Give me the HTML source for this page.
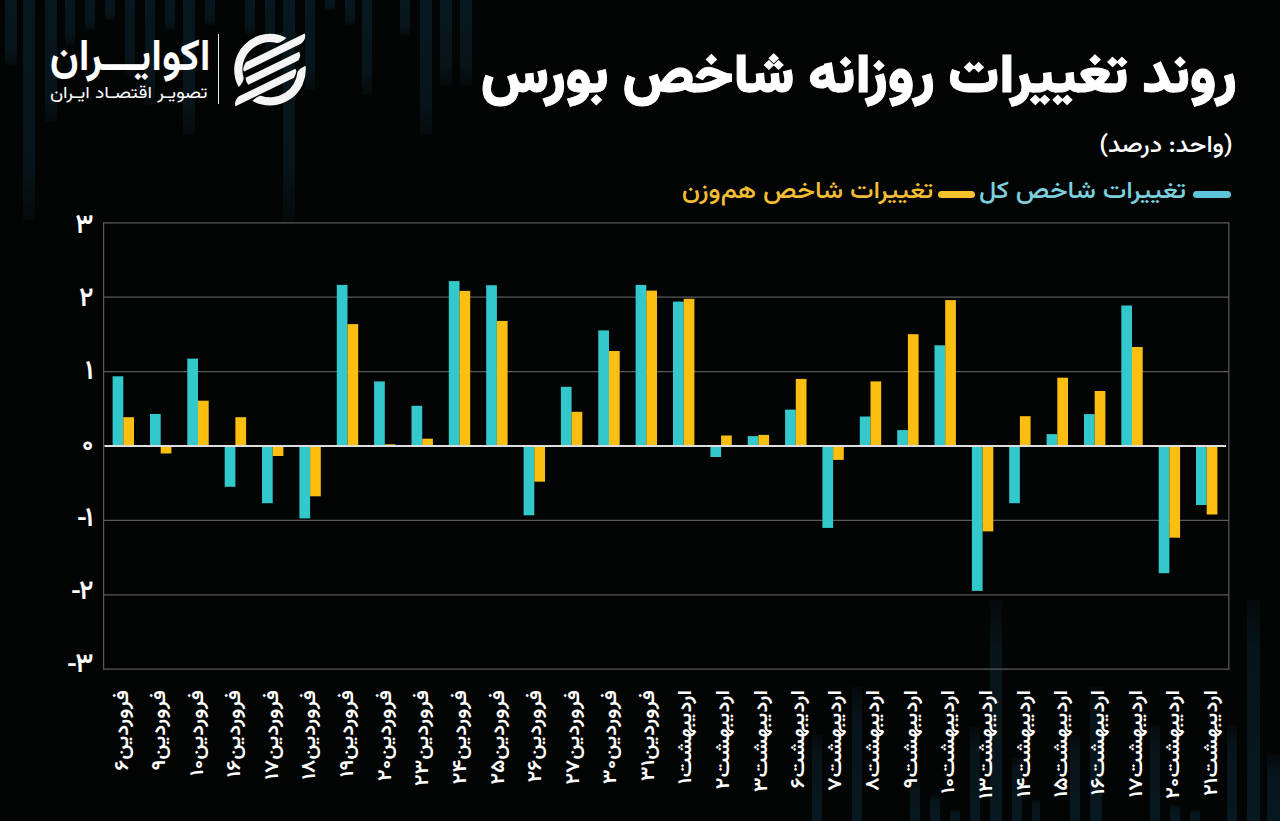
<!DOCTYPE html>
<html lang="fa"><head><meta charset="utf-8"><title>روند تغییرات روزانه شاخص بورس</title>
<style>
html,body{margin:0;padding:0;}
body{width:1280px;height:821px;overflow:hidden;background:#030404;position:relative;font-family:"Vazirmatn","DejaVu Sans",sans-serif;color:#fff;}
svg{position:absolute;left:0;top:0;}
.t{position:absolute;direction:rtl;white-space:nowrap;transform-origin:100% 50%;}
.title{right:43px;top:41px;font-size:54px;font-weight:900;line-height:76px;transform:scaleX(1.043);-webkit-text-stroke:0.9px #fff;}
.sub{right:47.5px;top:129.5px;font-size:23px;font-weight:500;line-height:32px;transform:scaleX(1.097);}
.leg{top:175px;font-size:24px;font-weight:500;line-height:34px;transform:scaleX(1.107);}
.dash{position:absolute;top:190.5px;height:7px;width:37.5px;border-radius:3.5px;}
.yt{position:absolute;right:1186.5px;width:40px;text-align:right;font-size:27px;font-weight:600;direction:ltr;line-height:28px;}
.mn{display:inline-block;transform:scaleX(0.77);transform-origin:100% 50%;position:relative;left:1.6px;}
.lb{position:absolute;top:690px;width:0;height:0;}
.lb span{position:absolute;right:0;top:-14px;line-height:28px;font-size:19.5px;font-weight:600;white-space:nowrap;direction:rtl;transform-origin:100% 50%;transform:rotate(-90deg) scaleX(1.13);}
.brand{position:absolute;direction:rtl;white-space:nowrap;transform-origin:100% 50%;}
.b1{right:1069px;top:29.5px;font-size:44px;font-weight:700;line-height:60px;transform:scaleX(0.948);}
.b2{right:1072px;top:81.5px;font-size:17px;font-weight:400;line-height:24px;transform:scaleX(1.146);}
</style></head><body>
<svg width="1280" height="821" viewBox="0 0 1280 821">
<defs>
<linearGradient id="gd" x1="0" y1="0" x2="0" y2="1"><stop offset="0" stop-color="#081820"/><stop offset="0.75" stop-color="#07151b"/><stop offset="1" stop-color="#050a0c"/></linearGradient>
<linearGradient id="gu" x1="0" y1="1" x2="0" y2="0"><stop offset="0" stop-color="#081820"/><stop offset="0.75" stop-color="#07151b"/><stop offset="1" stop-color="#050a0c"/></linearGradient>
</defs>
<rect x="5" y="0" width="12" height="65" fill="url(#gd)"/><rect x="23" y="0" width="12" height="220" fill="url(#gd)"/><rect x="45" y="0" width="12" height="122" fill="url(#gd)"/><rect x="65" y="0" width="10" height="45" fill="url(#gd)"/><rect x="85" y="0" width="10" height="30" fill="url(#gd)"/><rect x="105" y="0" width="10" height="20" fill="url(#gd)"/><rect x="125" y="0" width="10" height="75" fill="url(#gd)"/><rect x="145" y="0" width="10" height="105" fill="url(#gd)"/><rect x="165" y="0" width="10" height="30" fill="url(#gd)"/><rect x="183" y="0" width="12" height="135" fill="url(#gd)"/><rect x="205" y="0" width="10" height="25" fill="url(#gd)"/><rect x="245" y="0" width="10" height="35" fill="url(#gd)"/><rect x="265" y="0" width="10" height="55" fill="url(#gd)"/><rect x="283" y="0" width="12" height="220" fill="url(#gd)"/><rect x="305" y="0" width="10" height="90" fill="url(#gd)"/><rect x="325" y="0" width="10" height="10" fill="url(#gd)"/><rect x="345" y="0" width="10" height="25" fill="url(#gd)"/><rect x="362" y="0" width="10" height="95" fill="url(#gd)"/><rect x="400" y="0" width="10" height="35" fill="url(#gd)"/><rect x="420" y="0" width="12" height="135" fill="url(#gd)"/><rect x="440" y="0" width="12" height="85" fill="url(#gd)"/><rect x="460" y="0" width="12" height="85" fill="url(#gd)"/><rect x="812" y="735" width="10" height="86" fill="url(#gu)"/><rect x="852" y="687" width="10" height="134" fill="url(#gu)"/><rect x="910" y="780" width="10" height="41" fill="url(#gu)"/><rect x="930" y="795" width="10" height="26" fill="url(#gu)"/><rect x="950" y="810" width="10" height="11" fill="url(#gu)"/><rect x="970" y="727" width="10" height="94" fill="url(#gu)"/><rect x="990" y="600" width="12" height="221" fill="url(#gu)"/><rect x="1012" y="757" width="10" height="64" fill="url(#gu)"/><rect x="1032" y="800" width="8" height="21" fill="url(#gu)"/><rect x="1070" y="735" width="10" height="86" fill="url(#gu)"/><rect x="1090" y="687" width="12" height="134" fill="url(#gu)"/><rect x="1150" y="725" width="10" height="96" fill="url(#gu)"/><rect x="1170" y="805" width="10" height="16" fill="url(#gu)"/><rect x="1190" y="810" width="10" height="11" fill="url(#gu)"/><rect x="1227" y="725" width="10" height="96" fill="url(#gu)"/><rect x="1247" y="600" width="13" height="221" fill="url(#gu)"/><rect x="1267" y="755" width="13" height="66" fill="url(#gu)"/>
<g stroke="#5a5a5a" stroke-width="1.2"><line x1="103.5" y1="222.8" x2="1229" y2="222.8"/><line x1="103.5" y1="297.2" x2="1229" y2="297.2"/><line x1="103.5" y1="371.6" x2="1229" y2="371.6"/><line x1="103.5" y1="520.4" x2="1229" y2="520.4"/><line x1="103.5" y1="594.8" x2="1229" y2="594.8"/><line x1="103.5" y1="669.2" x2="1229" y2="669.2"/>
<line x1="103.6" y1="222.3" x2="103.6" y2="669.7"/><line x1="1228.8" y1="222.3" x2="1228.8" y2="669.7"/></g>
<rect x="112.6" y="376.3" width="10.7" height="69.7" fill="#32c8cc"/><rect x="123.3" y="417.2" width="10.7" height="28.8" fill="#fdbe12"/><rect x="150.0" y="414.0" width="10.7" height="32.0" fill="#32c8cc"/><rect x="160.7" y="446.0" width="10.7" height="7.5" fill="#fdbe12"/><rect x="187.3" y="358.6" width="10.7" height="87.4" fill="#32c8cc"/><rect x="198.0" y="400.7" width="10.7" height="45.3" fill="#fdbe12"/><rect x="224.7" y="446.0" width="10.7" height="40.8" fill="#32c8cc"/><rect x="235.4" y="417.2" width="10.7" height="28.8" fill="#fdbe12"/><rect x="262.0" y="446.0" width="10.7" height="57.2" fill="#32c8cc"/><rect x="272.7" y="446.0" width="10.7" height="10.0" fill="#fdbe12"/><rect x="299.4" y="446.0" width="10.7" height="72.4" fill="#32c8cc"/><rect x="310.1" y="446.0" width="10.7" height="50.3" fill="#fdbe12"/><rect x="336.8" y="284.9" width="10.7" height="161.1" fill="#32c8cc"/><rect x="347.5" y="324.1" width="10.7" height="121.9" fill="#fdbe12"/><rect x="374.1" y="381.4" width="10.7" height="64.6" fill="#32c8cc"/><rect x="384.8" y="444.3" width="10.7" height="1.7" fill="#fdbe12"/><rect x="411.5" y="405.8" width="10.7" height="40.2" fill="#32c8cc"/><rect x="422.2" y="438.7" width="10.7" height="7.3" fill="#fdbe12"/><rect x="448.8" y="281.1" width="10.7" height="164.9" fill="#32c8cc"/><rect x="459.5" y="290.9" width="10.7" height="155.1" fill="#fdbe12"/><rect x="486.2" y="285.2" width="10.7" height="160.8" fill="#32c8cc"/><rect x="496.9" y="320.9" width="10.7" height="125.1" fill="#fdbe12"/><rect x="523.6" y="446.0" width="10.7" height="69.3" fill="#32c8cc"/><rect x="534.3" y="446.0" width="10.7" height="35.7" fill="#fdbe12"/><rect x="560.9" y="386.8" width="10.7" height="59.2" fill="#32c8cc"/><rect x="571.6" y="411.8" width="10.7" height="34.2" fill="#fdbe12"/><rect x="598.3" y="330.4" width="10.7" height="115.6" fill="#32c8cc"/><rect x="609.0" y="351.0" width="10.7" height="95.0" fill="#fdbe12"/><rect x="635.6" y="284.9" width="10.7" height="161.1" fill="#32c8cc"/><rect x="646.3" y="290.6" width="10.7" height="155.4" fill="#fdbe12"/><rect x="673.0" y="301.6" width="10.7" height="144.4" fill="#32c8cc"/><rect x="683.7" y="298.8" width="10.7" height="147.2" fill="#fdbe12"/><rect x="710.4" y="446.0" width="10.7" height="11.0" fill="#32c8cc"/><rect x="721.1" y="435.5" width="10.7" height="10.5" fill="#fdbe12"/><rect x="747.7" y="436.1" width="10.7" height="9.9" fill="#32c8cc"/><rect x="758.4" y="434.9" width="10.7" height="11.1" fill="#fdbe12"/><rect x="785.1" y="409.6" width="10.7" height="36.4" fill="#32c8cc"/><rect x="795.8" y="378.9" width="10.7" height="67.1" fill="#fdbe12"/><rect x="822.4" y="446.0" width="10.7" height="81.9" fill="#32c8cc"/><rect x="833.1" y="446.0" width="10.7" height="13.9" fill="#fdbe12"/><rect x="859.8" y="416.5" width="10.7" height="29.5" fill="#32c8cc"/><rect x="870.5" y="381.4" width="10.7" height="64.6" fill="#fdbe12"/><rect x="897.2" y="430.1" width="10.7" height="15.9" fill="#32c8cc"/><rect x="907.9" y="334.2" width="10.7" height="111.8" fill="#fdbe12"/><rect x="934.5" y="345.3" width="10.7" height="100.7" fill="#32c8cc"/><rect x="945.2" y="300.1" width="10.7" height="145.9" fill="#fdbe12"/><rect x="971.9" y="446.0" width="10.7" height="144.9" fill="#32c8cc"/><rect x="982.6" y="446.0" width="10.7" height="85.4" fill="#fdbe12"/><rect x="1009.2" y="446.0" width="10.7" height="57.2" fill="#32c8cc"/><rect x="1019.9" y="416.2" width="10.7" height="29.8" fill="#fdbe12"/><rect x="1046.6" y="434.1" width="10.7" height="11.9" fill="#32c8cc"/><rect x="1057.3" y="377.7" width="10.7" height="68.3" fill="#fdbe12"/><rect x="1084.0" y="414.1" width="10.7" height="31.9" fill="#32c8cc"/><rect x="1094.7" y="391.0" width="10.7" height="55.0" fill="#fdbe12"/><rect x="1121.3" y="305.5" width="10.7" height="140.5" fill="#32c8cc"/><rect x="1132.0" y="347.0" width="10.7" height="99.0" fill="#fdbe12"/><rect x="1158.7" y="446.0" width="10.7" height="127.2" fill="#32c8cc"/><rect x="1169.4" y="446.0" width="10.7" height="91.7" fill="#fdbe12"/><rect x="1196.0" y="446.0" width="10.7" height="59.0" fill="#32c8cc"/><rect x="1206.7" y="446.0" width="10.7" height="68.5" fill="#fdbe12"/>
<line x1="104.5" y1="446" x2="1226" y2="446" stroke="#dedede" stroke-width="2"/>
</svg>
<div class="t title">روند تغییرات روزانه شاخص بورس</div>
<div class="t sub">(واحد: درصد)</div>
<div class="dash" style="left:1193px;background:#5fc3dc"></div>
<div class="t leg" style="right:94px;color:#7ccfdc">تغییرات شاخص کل</div>
<div class="dash" style="left:937.5px;background:#f7c12c"></div>
<div class="t leg" style="right:347px;color:#f2bd33">تغییرات شاخص هم‌وزن</div>
<svg width="82" height="82" viewBox="0 0 82 82" style="left:230px;top:28px"><g fill="#f4f4f4"><path d="M56.42,9.89 A35.8,35.8 0 0 0 8.69,59.06 Q13.90,53.87 13.61,49.77 A27.6,27.6 0 0 1 46.68,14.92 Q50.90,14.72 56.42,9.89 Z"/><path d="M22.32,72.83 A35.8,35.8 0 0 0 75.58,37.71 Q69.08,40.68 67.49,44.11 A27.6,27.6 0 0 1 31.01,67.80 Q27.70,68.07 22.32,72.83 Z"/><path d="M15.80,34.31 L74.68,5.59 Q76.53,10.53 71.32,15.58 L14.16,43.46 Q11.66,41.06 15.80,34.31 Z"/><path d="M15.51,49.81 L69.05,23.69 Q71.58,27.74 68.29,32.41 L18.24,56.82 Q16.05,54.61 15.51,49.81 Z"/><path d="M8.90,68.27 L65.28,40.77 Q67.79,43.17 63.99,49.75 L5.54,78.26 Q3.69,73.32 8.90,68.27 Z"/></g></svg>
<div style="position:absolute;left:217.5px;top:34px;width:1.5px;height:70px;background:#e8e8e8"></div>
<div class="brand b1">اکوایـــران</div>
<div class="brand b2">تصویـر اقتصـاد ایـران</div>
<div class="yt" style="top:212.8px">۳</div><div class="yt" style="top:285.7px">۲</div><div class="yt" style="top:358.6px">۱</div><div class="yt" style="top:431.5px">۰</div><div class="yt" style="top:506.4px"><span class="mn">-</span>۱</div><div class="yt" style="top:578.8px"><span class="mn">-</span>۲</div><div class="yt" style="top:652.2px"><span class="mn">-</span>۳</div>
<div class="lb" style="left:123.0px"><span>فروردین۶</span></div><div class="lb" style="left:160.6px"><span>فروردین۹</span></div><div class="lb" style="left:198.1px"><span>فروردین۱۰</span></div><div class="lb" style="left:235.7px"><span>فروردین۱۶</span></div><div class="lb" style="left:273.2px"><span>فروردین۱۷</span></div><div class="lb" style="left:310.8px"><span>فروردین۱۸</span></div><div class="lb" style="left:348.4px"><span>فروردین۱۹</span></div><div class="lb" style="left:385.9px"><span>فروردین۲۰</span></div><div class="lb" style="left:423.5px"><span>فروردین۲۳</span></div><div class="lb" style="left:461.0px"><span>فروردین۲۴</span></div><div class="lb" style="left:498.6px"><span>فروردین۲۵</span></div><div class="lb" style="left:536.2px"><span>فروردین۲۶</span></div><div class="lb" style="left:573.7px"><span>فروردین۲۷</span></div><div class="lb" style="left:611.3px"><span>فروردین۳۰</span></div><div class="lb" style="left:648.8px"><span>فروردین۳۱</span></div><div class="lb" style="left:686.4px"><span>اردیبهشت۱</span></div><div class="lb" style="left:724.0px"><span>اردیبهشت۲</span></div><div class="lb" style="left:761.5px"><span>اردیبهشت۳</span></div><div class="lb" style="left:799.1px"><span>اردیبهشت۶</span></div><div class="lb" style="left:836.6px"><span>اردیبهشت۷</span></div><div class="lb" style="left:874.2px"><span>اردیبهشت۸</span></div><div class="lb" style="left:911.8px"><span>اردیبهشت۹</span></div><div class="lb" style="left:949.3px"><span>اردیبهشت۱۰</span></div><div class="lb" style="left:986.9px"><span>اردیبهشت۱۳</span></div><div class="lb" style="left:1024.4px"><span>اردیبهشت۱۴</span></div><div class="lb" style="left:1062.0px"><span>اردیبهشت۱۵</span></div><div class="lb" style="left:1099.6px"><span>اردیبهشت۱۶</span></div><div class="lb" style="left:1137.1px"><span>اردیبهشت۱۷</span></div><div class="lb" style="left:1174.7px"><span>اردیبهشت۲۰</span></div><div class="lb" style="left:1212.2px"><span>اردیبهشت۲۱</span></div>
</body></html>
